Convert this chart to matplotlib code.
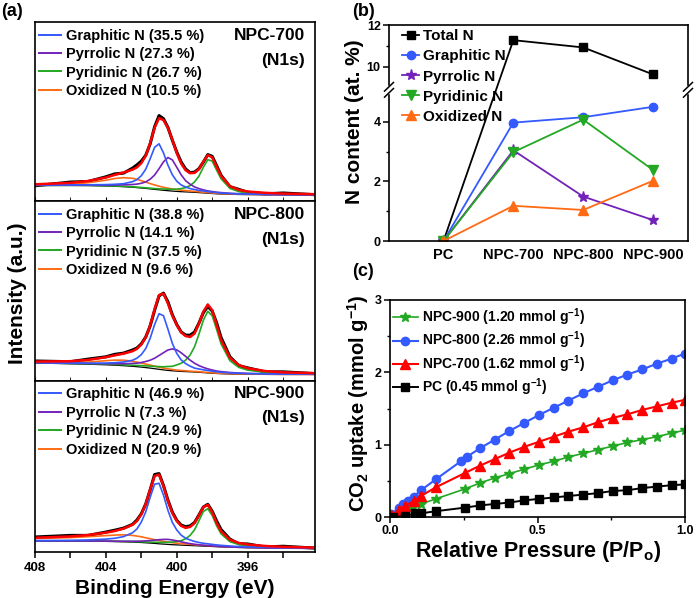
import numpy as np
import matplotlib
matplotlib.use("Agg")
import matplotlib.pyplot as plt
from matplotlib.lines import Line2D
from matplotlib.ticker import MultipleLocator, FixedLocator

plt.rcParams['font.family'] = ['Liberation Sans', 'DejaVu Sans']
plt.rcParams['font.weight'] = 'bold'
plt.rcParams['mathtext.fontset'] = 'custom'
plt.rcParams['mathtext.rm'] = 'Liberation Sans:bold'
plt.rcParams['mathtext.bf'] = 'Liberation Sans:bold'
plt.rcParams['mathtext.default'] = 'bf'
plt.rcParams['axes.linewidth'] = 1.2

# ---------------- (a) XPS N1s, intensity in arbitrary units ----------------
energy = [408, 406, 405, 404, 403.5, 403, 402.5, 402.25, 402, 401.75, 401.5,
          401.25, 401, 400.75, 400.5, 400.25, 400, 399.75, 399.5, 399.25, 399,
          398.75, 398.5, 398.25, 398, 397.75, 397.5, 397, 396.5, 396, 395, 394, 392.2]

# NPC-700
bg_700 = [15.5, 15.5, 15.4, 15.0, 14.7, 14.3, 13.8, 13.4, 13.0, 12.6, 12.1, 11.6, 11.2,
          10.7, 10.3, 9.9, 9.6, 9.3, 9.1, 8.9, 8.7, 8.4, 8.1, 7.8, 7.5, 7.2, 7.0, 6.7,
          6.5, 6.4, 6.2, 6.1, 6.0]
graphitic_700 = [0.3, 0.55, 0.8, 1.4, 2.0, 3.0, 5.5, 7.9, 12.3, 19.3, 30.2, 42.1, 46.0,
                 37.4, 25.6, 16.3, 10.2, 6.7, 4.9, 3.5, 2.8, 2.2, 1.9, 1.6, 1.35, 1.2,
                 1.0, 0.75, 0.6, 0.5, 0.4, 0.3, 0.2]
pyrrolic_700 = [0.2, 0.4, 0.6, 1.0, 1.3, 1.8, 2.7, 3.5, 4.7, 6.5, 9.7, 14.4, 21.1, 28.5,
                33.2, 31.2, 24.1, 16.8, 11.2, 7.9, 5.4, 4.0, 3.0, 2.3, 1.9, 1.6, 1.4,
                1.0, 0.8, 0.6, 0.4, 0.3, 0.2]
pyridinic_700 = [0.1, 0.2, 0.3, 0.3, 0.3, 0.4, 0.45, 0.5, 0.55, 0.6, 0.7, 0.85, 1.0,
                 1.25, 1.5, 1.8, 2.2, 3.1, 4.3, 6.5, 10.3, 16.4, 25.7, 33.5, 32.4, 23.6,
                 15.2, 5.9, 2.9, 1.7, 0.9, 0.5, 0.25]
oxidized_700 = [0.6, 1.5, 2.9, 5.8, 7.8, 9.0, 8.9, 8.3, 7.3, 6.3, 5.3, 4.4, 3.6, 3.0,
                2.5, 2.1, 1.8, 1.5, 1.3, 1.1, 0.9, 0.8, 0.7, 0.6, 0.55, 0.5, 0.45, 0.4,
                0.35, 0.3, 0.25, 0.2, 0.15]
raw_700 = [-1.5, 0.8, -0.5, 0.7, 1.0, -0.6, 1.5, 2.5, 2.0, 0.5, -0.8, 1.0, 2.5, 1.5,
           0.5, -0.5, 1.0, 1.5, 1.2, 0.5, 0.8, 0.5, -0.5, 0.6, 1.0, 1.2, 0.6, -0.4,
           0.5, -0.8, -1.0, 0.6, -0.5]

# NPC-800
bg_800 = [18.0, 17.2, 16.8, 16.2, 15.8, 15.3, 14.7, 14.3, 13.9, 13.4, 12.9, 12.3, 11.7,
          11.1, 10.6, 10.2, 9.9, 9.6, 9.4, 9.2, 9.0, 8.7, 8.4, 8.1, 7.8, 7.5, 7.3, 7.0,
          6.8, 6.7, 6.6, 6.5, 6.5]
graphitic_800 = [0.4, 0.7, 1.0, 1.7, 2.5, 3.7, 6.0, 8.5, 12.5, 19.1, 29.9, 44.2, 55.6,
                 54.2, 41.3, 27.4, 17.7, 11.4, 8.0, 5.7, 3.9, 3.3, 2.8, 2.4, 2.0, 1.7,
                 1.4, 1.1, 0.9, 0.7, 0.5, 0.4, 0.3]
pyrrolic_800 = [0.3, 0.5, 0.7, 1.1, 1.5, 2.0, 2.9, 3.5, 4.6, 6.1, 7.9, 10.5, 13.8, 17.2,
                20.4, 21.9, 21.2, 18.6, 15.2, 11.7, 8.8, 6.7, 5.2, 4.0, 3.2, 2.5, 2.1,
                1.5, 1.2, 0.9, 0.6, 0.4, 0.3]
pyridinic_800 = [0.3, 0.4, 0.5, 0.7, 0.75, 0.9, 1.1, 1.25, 1.5, 1.7, 2.0, 2.3, 2.7, 3.1,
                 3.9, 4.5, 6.2, 8.1, 11.5, 16.7, 25.1, 38.1, 52.4, 61.6, 57.4, 44.0,
                 29.8, 13.3, 6.8, 4.2, 2.0, 1.2, 0.6]
oxidized_800 = [0.4, 1.0, 2.1, 4.1, 5.1, 5.5, 5.1, 4.6, 4.1, 3.5, 3.0, 2.5, 2.1, 1.8,
                1.5, 1.3, 1.0, 0.9, 0.8, 0.7, 0.6, 0.55, 0.5, 0.45, 0.4, 0.4, 0.35, 0.3,
                0.3, 0.25, 0.2, 0.15, 0.1]
raw_800 = [0.6, -0.5, 0.8, 0.4, 1.0, 0.5, 1.2, 0.8, 0.6, 0.2, -0.5, -1.0, -0.8, 0.5,
           1.5, 1.0, 0.5, 0.4, 1.0, 1.8, 1.5, 0.5, -1.0, -2.0, -0.8, 2.0, 2.5, 1.0,
           -0.6, 0.4, -0.8, 0.5, -0.4]

# NPC-900
bg_900 = [11.0, 10.9, 10.8, 10.6, 10.4, 10.2, 9.9, 9.7, 9.5, 9.2, 8.9, 8.6, 8.2, 7.9,
          7.6, 7.3, 7.1, 6.9, 6.7, 6.5, 6.3, 6.1, 5.9, 5.7, 5.5, 5.3, 5.1, 4.8, 4.5,
          4.3, 4.0, 3.8, 3.5]
graphitic_900 = [0.45, 0.8, 1.25, 2.3, 3.3, 5.2, 9.3, 13.3, 20.5, 31.0, 45.9, 59.2, 60.5,
                 49.0, 34.1, 22.3, 14.9, 9.9, 7.1, 5.5, 4.3, 3.4, 2.8, 2.5, 2.1, 1.8,
                 1.55, 1.2, 0.9, 0.75, 0.55, 0.4, 0.3]
pyrrolic_900 = [0.1, 0.2, 0.2, 0.3, 0.4, 0.55, 0.85, 1.1, 1.45, 1.9, 2.5, 3.3, 4.1, 4.7,
                5.0, 4.7, 4.1, 3.3, 2.5, 1.9, 1.45, 1.1, 0.85, 0.7, 0.55, 0.45, 0.4,
                0.3, 0.25, 0.2, 0.15, 0.1, 0.1]
pyridinic_900 = [0.15, 0.2, 0.25, 0.35, 0.4, 0.45, 0.55, 0.65, 0.7, 0.85, 1.0, 1.2, 1.4,
                 1.7, 2.1, 2.6, 3.3, 4.5, 6.5, 10.1, 15.8, 25.1, 34.6, 37.6, 31.0, 20.9,
                 13.1, 5.5, 3.0, 1.9, 1.0, 0.6, 0.3]
oxidized_900 = [2.5, 3.5, 4.5, 5.8, 6.5, 7.0, 6.7, 6.2, 5.7, 5.0, 4.4, 3.7, 3.2, 2.7,
                2.3, 2.0, 1.7, 1.5, 1.3, 1.1, 1.0, 0.9, 0.8, 0.7, 0.6, 0.55, 0.5, 0.45,
                0.4, 0.35, 0.3, 0.25, 0.2]
raw_900 = [0.8, 1.0, -0.4, 0.6, 0.8, 0.5, 0.3, 1.0, 0.4, 0.2, -0.5, 1.5, 1.0, 0.5, 0.8,
           1.0, 0.6, 0.8, 1.2, 1.0, 0.6, 0.4, 0.0, 0.5, 1.0, 2.0, 1.8, 0.6, -0.8, 0.5,
           -1.0, 0.6, -0.5]

samples_a = ["NPC-700", "NPC-800", "NPC-900"]
shares_700 = ["35.5", "27.3", "26.7", "10.5"]
shares_800 = ["38.8", "14.1", "37.5", "9.6"]
shares_900 = ["46.9", "7.3", "24.9", "20.9"]
species = ["Graphitic N", "Pyrrolic N", "Pyridinic N", "Oxidized N"]

# ---------------- (b) N content ----------------
samples_b = ["PC", "NPC-700", "NPC-800", "NPC-900"]
total_n = [0, 11.27, 10.92, 9.62]
graphitic_n = [0, 3.97, 4.15, 4.5]
pyrrolic_n = [0, 3.04, 1.49, 0.7]
pyridinic_n = [0, 2.98, 4.07, 2.38]
oxidized_n = [0, 1.18, 1.04, 2.02]

# ---------------- (c) CO2 uptake ----------------
p_900 = [0.005, 0.02, 0.045, 0.075, 0.105, 0.155, 0.255, 0.305, 0.355, 0.405, 0.455,
         0.505, 0.555, 0.605, 0.655, 0.705, 0.755, 0.805, 0.855, 0.905, 0.955, 1.0]
q_900 = [0.01, 0.03, 0.07, 0.12, 0.18, 0.25, 0.39, 0.47, 0.54, 0.60, 0.66, 0.72, 0.77,
         0.83, 0.88, 0.93, 0.98, 1.03, 1.07, 1.11, 1.16, 1.20]
p_800 = [0.005, 0.03, 0.045, 0.06, 0.08, 0.105, 0.155, 0.24, 0.26, 0.305, 0.355, 0.405,
         0.455, 0.505, 0.555, 0.605, 0.655, 0.705, 0.755, 0.805, 0.855, 0.905, 0.955, 1.0]
q_800 = [0.04, 0.12, 0.18, 0.22, 0.28, 0.37, 0.52, 0.77, 0.83, 0.95, 1.07, 1.19, 1.30,
         1.41, 1.51, 1.61, 1.71, 1.80, 1.89, 1.97, 2.04, 2.12, 2.19, 2.26]
p_700 = [0.005, 0.03, 0.05, 0.08, 0.105, 0.155, 0.255, 0.305, 0.355, 0.405, 0.455, 0.505,
         0.555, 0.605, 0.655, 0.705, 0.755, 0.805, 0.855, 0.905, 0.955, 1.0]
q_700 = [0.03, 0.09, 0.15, 0.22, 0.29, 0.41, 0.61, 0.71, 0.80, 0.89, 0.97, 1.04, 1.11,
         1.18, 1.24, 1.31, 1.37, 1.42, 1.48, 1.53, 1.58, 1.62]
p_pc = [0.01, 0.05, 0.085, 0.105, 0.155, 0.255, 0.305, 0.355, 0.405, 0.455, 0.505, 0.555,
        0.605, 0.655, 0.705, 0.755, 0.805, 0.855, 0.905, 0.955, 1.0]
q_pc = [0.0, 0.01, 0.05, 0.05, 0.08, 0.13, 0.16, 0.18, 0.20, 0.23, 0.25, 0.27, 0.29, 0.31,
        0.33, 0.36, 0.37, 0.40, 0.42, 0.44, 0.45]
labels_c = ["NPC-900 (1.20 mmol g$^{-1}$)", "NPC-800 (2.26 mmol g$^{-1}$)",
            "NPC-700 (1.62 mmol g$^{-1}$)", "PC (0.45 mmol g$^{-1}$)"]

BLUE = '#3359ff'
PURPLE = '#7222b8'
GREEN = '#22a822'
ORANGE = '#ff6a14'
RED = '#ff0000'

W, H = 696, 598
fig = plt.figure(figsize=(W / 100, H / 100), dpi=100)


def box(l, t, r, b):
    return [l / W, 1 - b / H, (r - l) / W, (b - t) / H]


# ----- panel (a) -----
rects = [(35, 22, 315, 201), (35, 201, 315, 381), (35, 381, 315, 552)]
panels = [
    (bg_700, graphitic_700, pyrrolic_700, pyridinic_700, oxidized_700, raw_700, shares_700),
    (bg_800, graphitic_800, pyrrolic_800, pyridinic_800, oxidized_800, raw_800, shares_800),
    (bg_900, graphitic_900, pyrrolic_900, pyridinic_900, oxidized_900, raw_900, shares_900),
]
E = np.array(energy)
for i, (rect, pan, name) in enumerate(zip(rects, panels, samples_a)):
    ax = fig.add_axes(box(*rect))
    bg, gr, py, pd, ox, raw = [np.array(v, dtype=float) for v in pan[:6]]
    sh = pan[6]
    env = bg + gr + py + pd + ox
    ax.plot(E, env + raw, color='k', lw=2.2)
    ax.plot(E, bg, color='k', lw=0.9)
    ax.plot(E, bg + ox, color=ORANGE, lw=1.2)
    ax.plot(E, bg + pd, color=GREEN, lw=1.2)
    ax.plot(E, bg + py, color=PURPLE, lw=1.2)
    ax.plot(E, bg + gr, color=BLUE, lw=1.2)
    ax.plot(E, env, color=RED, lw=1.8)
    ax.set_xlim(408, 392.2)
    ax.set_ylim(0, rect[3] - rect[1])
    ax.set_yticks([])
    ax.xaxis.set_major_locator(MultipleLocator(4))
    ax.xaxis.set_minor_locator(MultipleLocator(2))
    if i < 2:
        ax.tick_params(axis='x', which='both', direction='in', length=3, labelbottom=False)
    else:
        ax.tick_params(axis='x', which='both', direction='out', length=4, width=1.1,
                       labelsize=9.5, pad=3)
        ax.set_xticklabels([f"{v:g}" for v in ax.get_xticks()])
    handles = [Line2D([], [], color=c, lw=1.4) for c in (BLUE, PURPLE, GREEN, ORANGE)]
    labs = [f"{s} ({v} %)" for s, v in zip(species, sh)]
    ax.legend(handles, labs, loc='upper left', bbox_to_anchor=(0.015, 0.962),
              frameon=False, fontsize=10.5, handlelength=1.5, handletextpad=0.35,
              labelspacing=0.3, borderpad=0, borderaxespad=0)
    ax.text(0.965, 0.925, name, transform=ax.transAxes, ha='right', va='center',
            fontsize=12.5)
    ax.text(0.965, 0.785, "(N1s)", transform=ax.transAxes, ha='right', va='center',
            fontsize=12.5)

fig.text(175 / W, 1 - 588 / H, "Binding Energy (eV)", ha='center', va='center', fontsize=15)
fig.text(18 / W, 1 - 293 / H, "Intensity (a.u.)", ha='center', va='center',
         rotation=90, fontsize=15)
fig.text(1 / W, 1 - 12 / H, "(a)", ha='left', va='center', fontsize=13)

# ----- panel (b) -----
LO, HI = 5.07, 8.88
FR = 0.70  # fraction of height for the lower segment


def fwd(y):
    y = np.asarray(y, dtype=float)
    return np.where(y <= LO, y / LO * FR,
                    np.where(y >= HI, FR + (y - HI) / (12 - HI) * (1 - FR), FR))


def inv(t):
    t = np.asarray(t, dtype=float)
    return np.where(t <= FR, t / FR * LO, HI + (t - FR) / (1 - FR) * (12 - HI))


axb = fig.add_axes(box(389, 25, 688, 241))
axb.set_yscale('function', functions=(fwd, inv))
xb = np.arange(len(samples_b))
axb.plot(xb, total_n, color='k', marker='s', ms=5.5, lw=1.3, label='Total N')
axb.plot(xb, graphitic_n, color=BLUE, marker='o', ms=6, lw=1.3, label='Graphitic N')
axb.plot(xb, pyrrolic_n, color=PURPLE, marker='*', ms=8, lw=1.3, label='Pyrrolic N')
axb.plot(xb, pyridinic_n, color=GREEN, marker='v', ms=6.5, lw=1.3, label='Pyridinic N')
axb.plot(xb, oxidized_n, color=ORANGE, marker='^', ms=6.5, lw=1.3, label='Oxidized N')
axb.set_xlim(-0.78, 3.5)
axb.set_ylim(0, 12)
axb.set_xticks(xb)
axb.set_xticklabels(samples_b)
axb.yaxis.set_major_locator(FixedLocator([0, 2, 4, 10, 12]))
axb.yaxis.set_minor_locator(FixedLocator([1, 3, 11]))
axb.set_yticklabels(['0', '2', '4', '10', '12'])
axb.tick_params(axis='both', which='major', direction='out', length=4, width=1.1,
                labelsize=9, pad=2)
axb.tick_params(axis='y', which='minor', direction='out', length=2.5, width=1.0)
axb.tick_params(axis='x', which='major', length=0, pad=5, labelsize=10.5)
axb.legend(loc='upper left', bbox_to_anchor=(0.045, 0.98), frameon=False, fontsize=11,
           handlelength=1.1, handletextpad=0.25, labelspacing=0.4, numpoints=1,
           borderpad=0, borderaxespad=0)
# axis break marks
for xs in (0, 1):
    axb.plot([xs, xs], [FR - 0.012, FR + 0.012], transform=axb.transAxes, color='white',
             lw=2.5, clip_on=False, zorder=5)
    for dy in (-0.014, 0.014):
        axb.plot([xs - 0.015, xs + 0.015], [FR + dy - 0.02, FR + dy + 0.02],
                 transform=axb.transAxes, color='k', lw=1.1, clip_on=False, zorder=6)
fig.text(355 / W, 1 - 122 / H, "N content (at. %)", ha='center', va='center',
         rotation=90, fontsize=15)
fig.text(352 / W, 1 - 12 / H, "(b)", ha='left', va='center', fontsize=13)

# ----- panel (c) -----
axc = fig.add_axes(box(390, 300, 685, 517))
axc.plot(p_900, q_900, color=GREEN, marker='*', ms=7, lw=1.2, label=labels_c[0])
axc.plot(p_800, q_800, color=BLUE, marker='o', ms=6, lw=1.5, label=labels_c[1])
axc.plot(p_700, q_700, color=RED, marker='^', ms=6.5, lw=1.5, label=labels_c[2])
axc.plot(p_pc, q_pc, color='k', marker='s', ms=5.5, lw=1.4, label=labels_c[3])
axc.set_xlim(0, 1)
axc.set_ylim(0, 3)
axc.xaxis.set_major_locator(MultipleLocator(0.5))
axc.xaxis.set_minor_locator(MultipleLocator(0.25))
axc.yaxis.set_major_locator(MultipleLocator(1))
axc.yaxis.set_minor_locator(MultipleLocator(0.5))
axc.set_xticklabels([f"{v:.1f}" for v in axc.get_xticks()])
axc.tick_params(axis='both', which='major', direction='out', length=4, width=1.1,
                labelsize=9, pad=2)
axc.tick_params(axis='both', which='minor', direction='out', length=2.5, width=1.0)
axc.legend(loc='upper left', bbox_to_anchor=(0.01, 0.97), frameon=False, fontsize=10,
           handlelength=1.8, handletextpad=0.3, labelspacing=0.12, numpoints=1,
           borderpad=0, borderaxespad=0)
fig.text(538 / W, 1 - 552 / H, "Relative Pressure (P/P$_{o}$)", ha='center', va='center',
         fontsize=15.5)
fig.text(358 / W, 1 - 403 / H, "CO$_{2}$ uptake (mmol g$^{-1}$)", ha='center',
         va='center', rotation=90, fontsize=14.5)
fig.text(352 / W, 1 - 272 / H, "(c)", ha='left', va='center', fontsize=13)

fig.savefig("out.png", dpi=100)
